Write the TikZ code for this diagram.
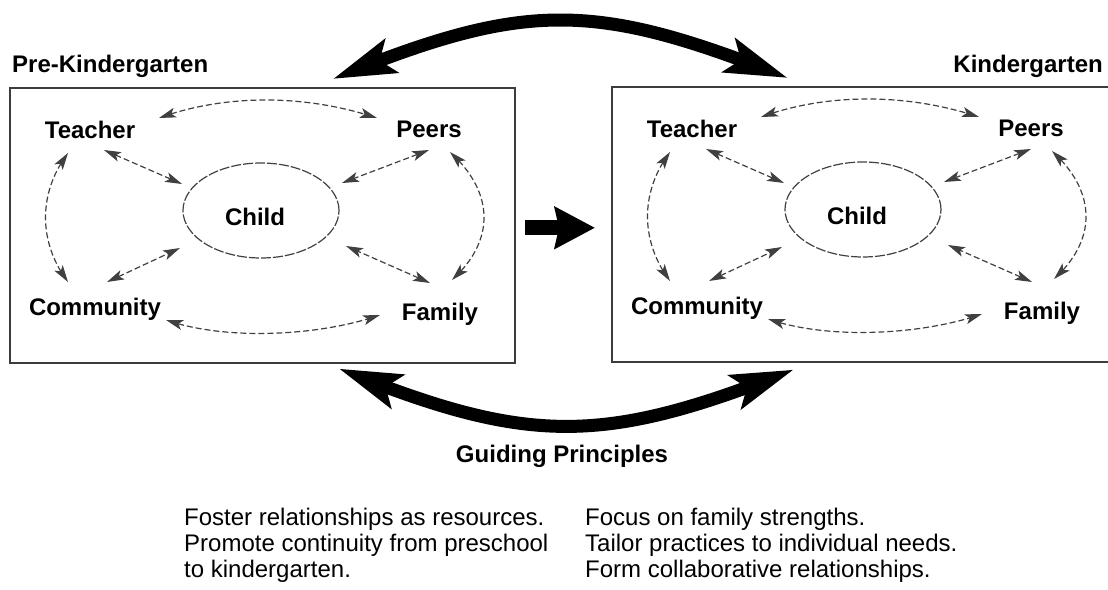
\documentclass[tikz,border=0pt]{standalone}
\usepackage{fontspec}
\setmainfont{Liberation Sans}
\usetikzlibrary{arrows.meta,shapes.geometric,bending}

\definecolor{linegray}{RGB}{64,64,64}
\definecolor{boxgray}{RGB}{60,60,60}

\tikzset{
 lab/.style={font=\fontsize{24}{26}\selectfont\bfseries, inner sep=0pt, anchor=base},
 body/.style={font=\fontsize{24}{26}\selectfont, inner sep=0pt, anchor=base west},
 panelbox/.style={draw=boxgray, line width=1.6pt, minimum width=505pt, minimum height=275pt, anchor=north west, inner sep=0pt},
 childell/.style={ellipse, draw=linegray, line width=1.2pt, dash pattern=on 10pt off 2pt, minimum width=156pt, minimum height=95pt, inner sep=0pt},
 rel/.style={draw=linegray, line width=1.2pt, dash pattern=on 6pt off 3pt, {Stealth[length=17pt,width=10pt,inset=4pt]}-{Stealth[length=17pt,width=10pt,inset=4pt]}},
 bigarrow/.style={line width=13pt, {Stealth[length=62pt,width=35pt,inset=12pt]}-{Stealth[length=62pt,width=35pt,inset=12pt]}},
 midarrow/.style={line width=15pt, -{Stealth[length=40pt,width=41pt,inset=4pt]}},
}

\newcommand\kgpanel[3]{%
\begin{scope}[shift={(#2,#3)}]
 \node[panelbox] (#1box) at (9,87) {};
 \node[childell] (#1E) at (261,210.5) {};
 \node[lab] (#1C) at (255,225) {Child};
 \node[lab] (#1T) at (90,138) {Teacher};
 \node[lab] (#1P) at (429,137) {Peers};
 \node[lab] (#1M) at (95,315) {Community};
 \node[lab] (#1F) at (440,320) {Family};
 % Teacher - Peers
 \draw[rel] ([shift={(69,-20)}]#1T.base) .. controls +(66,-24) and +(-72,-24) .. ([shift={(-52,-19)}]#1P.base);
 % Teacher - Child
 \draw[rel] ([shift={(14,12)}]#1T.base) -- ([shift={(-79,-26.5)}]#1E.center);
 % Peers - Child
 \draw[rel] ([shift={(0,13)}]#1P.base) -- ([shift={(81,-27.5)}]#1E.center);
 % Teacher - Community
 \draw[rel] ([shift={(-22,15)}]#1T.base) .. controls +(-30,40) and +(-30,-40) .. ([shift={(-27,-33)}]#1M.base);
 % Peers - Family
 \draw[rel] ([shift={(21,15)}]#1P.base) .. controls +(44,40) and +(44,-40) .. ([shift={(12,-40)}]#1F.base);
 % Community - Child
 \draw[rel] ([shift={(12,-33)}]#1M.base) -- ([shift={(-81,37.5)}]#1E.center);
 % Family - Child
 \draw[rel] ([shift={(-10,-37)}]#1F.base) -- ([shift={(85,35.5)}]#1E.center);
 % Community - Family
 \draw[rel] ([shift={(71,5)}]#1M.base) .. controls +(60,21) and +(-60,21) .. ([shift={(-60,-5)}]#1F.base);
\end{scope}}

\begin{document}
\begin{tikzpicture}[x=1pt,y=-1pt]
\useasboundingbox (0,0) rectangle (1108,589);
\clip (0,0) rectangle (1108,589);

\kgpanel{L}{0}{0}
\kgpanel{R}{602}{-1}

\node[lab, anchor=base west] (pk) at (12,72) {Pre-Kindergarten};
\node[lab, anchor=base east] (kg) at (1103,72) {Kindergarten};

% big arrows
\draw[bigarrow] ([shift={(70.5,-8)}]Lbox.north) .. controls (526,0.5) and (593,0.5) .. ([shift={(-76.5,-8)}]Rbox.north);
\draw[bigarrow] ([shift={(76.5,5)}]Lbox.south) .. controls (529,445.5) and (602,445.5) .. ([shift={(-70.5,7)}]Rbox.south);

\coordinate (mstart) at ([shift={(9,2.5)}]Lbox.east);
\draw[midarrow, shorten >=16pt] (mstart) -- (mstart -| Rbox.west);

\node[lab] (gp) at (562,462) {Guiding Principles};

\node[body] (a1) at (184,525) {Foster relationships as resources.};
\node[body] (a2) at (184,551) {Promote continuity from preschool};
\node[body] (a3) at (184,577) {to kindergarten.};
\node[body] (b1) at (585,525) {Focus on family strengths.};
\node[body] (b2) at (585,551) {Tailor practices to individual needs.};
\node[body] (b3) at (585,577) {Form collaborative relationships.};
\end{tikzpicture}
\end{document}
